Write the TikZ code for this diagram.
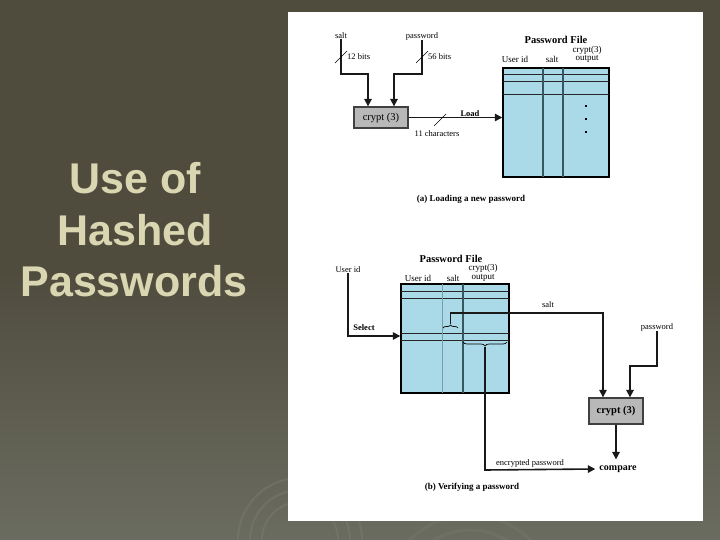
\documentclass[tikz,border=0pt]{standalone}
\usepackage{fontspec}
\setmainfont{Liberation Serif}
\newfontfamily\titlefont{Liberation Sans}
\usetikzlibrary{arrows.meta,decorations.pathreplacing}
\definecolor{bgtop}{HTML}{4F4C3E}
\definecolor{bgbot}{HTML}{6B6C60}
\definecolor{titlecol}{HTML}{D9D6B1}
\definecolor{tblue}{HTML}{AAD9E7}
\definecolor{colline}{HTML}{36575F}
\definecolor{thincol}{HTML}{7E9CA6}
\definecolor{boxgray}{HTML}{B8B8B8}
\definecolor{swirl}{HTML}{7A7B6E}
\begin{document}
\begin{tikzpicture}[x=1pt,y=-1pt,
  lbl/.style={font=\fontsize{8.5}{9}\selectfont, inner sep=0pt},
  hdr/.style={font=\fontsize{9}{10}\selectfont, inner sep=0pt},
  bld/.style={font=\fontsize{8.5}{9}\selectfont\bfseries, inner sep=0pt},
  ttl/.style={font=\fontsize{10.5}{12}\selectfont\bfseries, inner sep=0pt},
  captxt/.style={font=\fontsize{9}{10}\selectfont\bfseries, inner sep=0pt},
  bigtitle/.style={font=\titlefont\fontsize{43}{50}\selectfont\bfseries, text=titlecol, inner sep=0pt, anchor=base},
  conn/.style={draw=black!90, line width=1.6pt},
  thinconn/.style={draw=black!90, line width=1.1pt},
  arr/.style={-{Triangle[length=7.5pt,width=7.5pt]}},
  cryptbox/.style={draw=black!75, line width=1.3pt, fill=boxgray, minimum width=54pt, inner sep=0pt},
  tbl/.style={draw=black, line width=1.4pt, fill=tblue, inner sep=0pt},
  rowline/.style={draw=black!85, line width=1pt},
  colthick/.style={draw=colline, line width=1.8pt},
  colthin/.style={draw=thincol, line width=0.7pt},
  slash/.style={draw=black, line width=0.6pt},
  bracest/.style={draw=black, line width=0.7pt, decorate}
]
\useasboundingbox (0,0) rectangle (720,540);
% background
\shade[top color=bgtop, bottom color=bgbot, middle color=bgtop] (0,0) rectangle (720,540);
\begin{scope}
\clip (0,0) rectangle (720,540);
\foreach \r in {38,50,62} {
  \draw[swirl, opacity=0.5, line width=2pt] (300,540) circle[radius=\r];
}
\foreach \r in {70,85} {
  \draw[swirl, opacity=0.35, line width=3pt] (470,600) circle[radius=\r];
}
\end{scope}
% white panel
\fill[white] (288,12) rectangle (703,521);

% title
\node[bigtitle] (t1) at (135,194) {Use of};
\node[bigtitle] (t2) at (135,245) {Hashed};
\node[bigtitle] (t3) at (134,296) {Passwords};

% ===== (a) =====
\node[lbl] (saltA) at (341,36) {salt};
\node[lbl] (pwdA) at (422,36) {password};
\node[cryptbox, minimum height=21pt, font=\fontsize{10.5}{11}\selectfont] (cryptA) at (381,117.5) {crypt (3)};
\draw[conn,arr] (saltA.south) -- (341,74) -| ([xshift=-13pt]cryptA.north);
\draw[conn,arr] (pwdA.south) -- (422,74) -| ([xshift=13pt]cryptA.north);
\draw[slash] (335,63) -- (347,51);
\node[lbl, anchor=west] (b12) at (347,57) {12 bits};
\draw[slash] (416,63) -- (428,51);
\node[lbl, anchor=west] (b56) at (428,57) {56 bits};

\node[tbl, minimum width=106pt, minimum height=109pt] (tblA) at (556,122.5) {};
\foreach \yy in {75,82,95} { \draw[rowline] (503,\yy) -- (609,\yy); }
\draw[colthick] (543,68) -- (543,177);
\draw[colthick] (563,68) -- (563,177);
\foreach \yy in {105,118,131} { \fill[black] (584.8,\yy) rectangle (587.2,\yy+2.4); }
\node[ttl] (pfA) at (556,40) {Password File};
\node[hdr] (cA) at (587,50.5) {crypt(3)};
\node[hdr] (oA) at (587,59) {output};
\node[hdr] (uA) at (515,59) {User id};
\node[hdr] (sA) at (552,59) {salt};

\draw[conn,arr] (cryptA.east) -- (cryptA.east -| tblA.west);
\draw[slash] (434,126) -- (446,114);
\node[bld] (loadA) at (470,114) {Load};
\node[lbl] (chA) at (437,134) {11 characters};

\node[captxt] (capA) at (471,199) {(a) Loading a new password};

% ===== (b) =====
\node[ttl] (pfB) at (451,259) {Password File};
\node[hdr] (cB) at (483,268.5) {crypt(3)};
\node[hdr] (oB) at (483,278) {output};
\node[hdr] (uB) at (418,278) {User id};
\node[hdr] (sB) at (453,278) {salt};

\node[tbl, minimum width=108pt, minimum height=109pt] (tblB) at (455,338.5) {};
\foreach \yy in {291,298,333,340} { \draw[rowline] (401,\yy) -- (509,\yy); }
\draw[colthin] (442,284) -- (442,393);
\draw[colthick] (463,284) -- (463,393);

\node[lbl] (uidB) at (348,270) {User id};
\node[bld] (selB) at (364,328) {Select};
\coordinate (selCorner) at (348,336);
\draw[conn,arr] (uidB.south) -- (selCorner) -- (selCorner -| tblB.west);

% braces
\draw[bracest, decoration={brace, amplitude=3pt}] (443,328) -- (458,328);
\coordinate (saltTip) at (450.5,324);
\draw[bracest, decoration={brace, amplitude=4pt}] (507,342) -- (463,342);
\coordinate (outTip) at (485,347);

\node[cryptbox, minimum height=26pt, font=\fontsize{10.5}{11}\selectfont\bfseries] (cryptB) at (616,411) {crypt (3)};
\node[lbl] (saltB) at (548,305) {salt};
\node[lbl] (pwdB) at (657,327) {password};
\node[font=\fontsize{10}{11}\selectfont\bfseries, inner sep=0pt] (cmpB) at (618,469) {compare};

\draw[thinconn,arr] (saltTip) -- (450.5,313) -| ([xshift=-13pt]cryptB.north);
\draw[conn,arr] (pwdB.south) -- (657,366) -| ([xshift=14pt]cryptB.north);
\draw[conn,arr] (cryptB.south) -- ([yshift=6pt]cryptB.south |- cmpB.north);
\draw[conn,arr] (outTip) -- (485,470) -- ([xshift=-4pt]cmpB.west);
\node[lbl] (encB) at (530,463) {encrypted password};

\node[captxt] (capB) at (472,487) {(b) Verifying a password};
\end{tikzpicture}
\end{document}
